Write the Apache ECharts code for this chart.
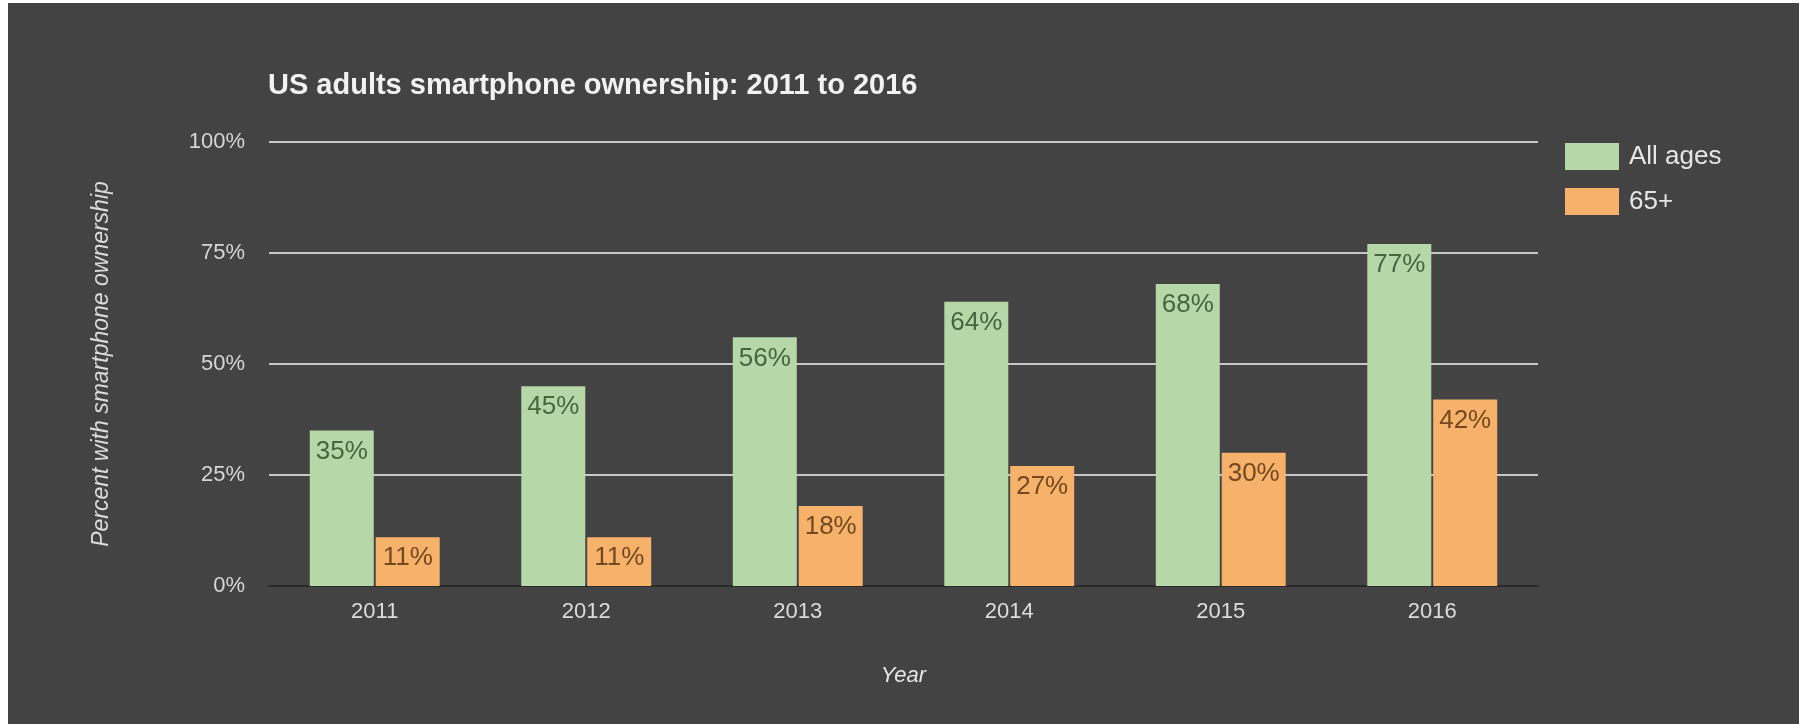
<!DOCTYPE html>
<html>
<head>
<meta charset="utf-8">
<script src="https://cdn.jsdelivr.net/npm/echarts@6/dist/echarts.min.js"></script>
<style>
  html, body { margin: 0; padding: 0; background: #ffffff; }
  #panel { position: absolute; left: 8px; top: 3px; width: 1791px; height: 721px; background: #434343; }
  #chart { position: absolute; left: 0; top: 0; width: 1807px; height: 724px; }
</style>
</head>
<body>
<div id="panel"></div>
<div id="chart"></div>
<script>
// Smartphone ownership among US adults, by year
const years = ['2011', '2012', '2013', '2014', '2015', '2016'];
const allAges = [35, 45, 56, 64, 68, 77];
const seniors = [11, 11, 18, 27, 30, 42];
const seriesNames = ['All ages', '65+'];
const yTicks = [0, 25, 50, 75, 100];

const FONT = '"Liberation Sans", Arial, Helvetica, sans-serif';

const chart = echarts.init(document.getElementById('chart'), null, { renderer: 'canvas' });

chart.setOption({
  backgroundColor: 'transparent',
  animation: false,
  textStyle: { fontFamily: FONT },
  title: {
    text: 'US adults smartphone ownership: 2011 to 2016',
    left: 263,
    top: 66,
    textStyle: { color: '#f2f2f2', fontSize: 29, fontWeight: 'bold', fontFamily: FONT }
  },
  legend: {
    orient: 'vertical',
    left: 1560,
    top: 138,
    itemWidth: 54,
    itemHeight: 27,
    itemGap: 18,
    icon: 'rect',
    data: seriesNames,
    textStyle: { color: '#e6e6e6', fontSize: 26, fontFamily: FONT, padding: [0, 0, 0, 5] }
  },
  grid: { left: 269, right: 1807 - 1538, top: 142, bottom: 724 - 586 },
  xAxis: {
    type: 'category',
    data: years,
    name: 'Year',
    nameLocation: 'middle',
    nameGap: 79,
    nameTextStyle: { color: '#e6e6e6', fontSize: 22, fontStyle: 'italic', fontFamily: FONT },
    axisLine: { show: true, lineStyle: { color: '#2a2a2a', width: 2 } },
    axisTick: { show: false },
    axisLabel: { color: '#dcdcdc', fontSize: 22, margin: 15, fontFamily: FONT }
  },
  yAxis: {
    type: 'value',
    min: yTicks[0],
    max: yTicks[yTicks.length - 1],
    interval: 25,
    name: 'Percent with smartphone ownership',
    nameLocation: 'middle',
    nameGap: 156,
    nameTextStyle: { color: '#dcdcdc', fontSize: 23, fontStyle: 'italic', fontFamily: FONT },
    axisLine: { show: false },
    axisTick: { show: false },
    axisLabel: { color: '#d6d6d6', fontSize: 22, margin: 24, formatter: '{value}%', fontFamily: FONT },
    splitLine: { show: true, lineStyle: { color: '#c8c8c8', width: 2 } }
  },
  series: [
    {
      name: seriesNames[0],
      type: 'bar',
      data: allAges,
      barWidth: 64,
      barGap: '3%',
      itemStyle: { color: '#b6d7a8' },
      label: {
        show: true,
        position: 'insideTop',
        distance: 8,
        formatter: '{c}%',
        color: '#46653f',
        fontSize: 26,
        fontFamily: FONT
      }
    },
    {
      name: seriesNames[1],
      type: 'bar',
      data: seniors,
      barWidth: 64,
      barGap: '3%',
      itemStyle: { color: '#f6b26b' },
      label: {
        show: true,
        position: 'insideTop',
        distance: 8,
        formatter: '{c}%',
        color: '#73491f',
        fontSize: 26,
        fontFamily: FONT
      }
    }
  ]
});
</script>
</body>
</html>
